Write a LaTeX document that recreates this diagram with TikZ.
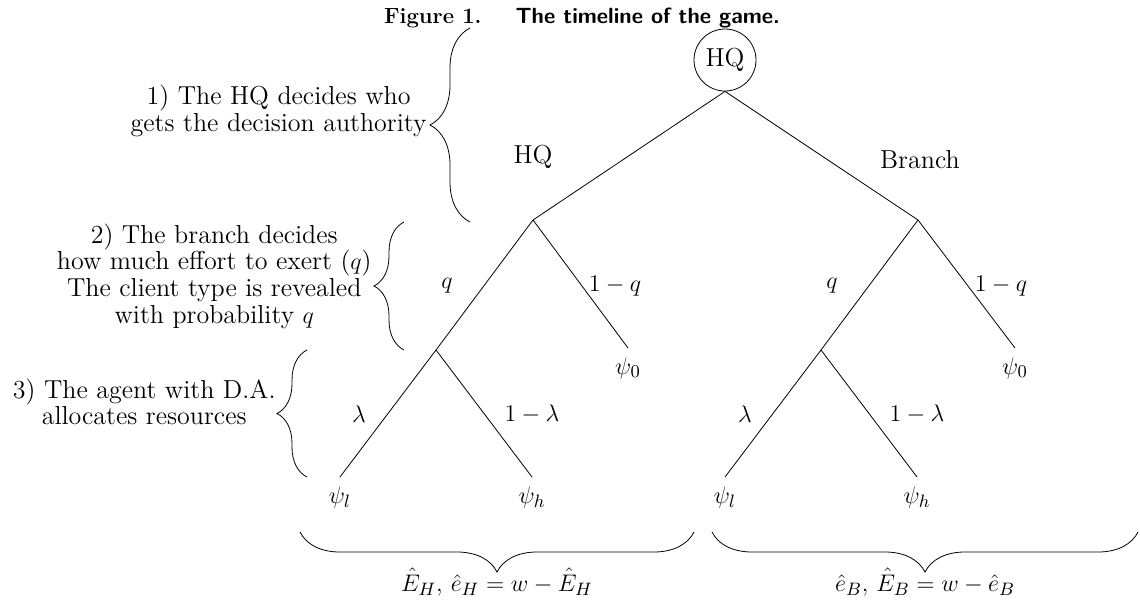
\documentclass[tikz,border=0pt]{standalone}
\usetikzlibrary{decorations.pathreplacing}
\begin{document}
\begin{tikzpicture}[x=0.5pt,y=-0.5pt,
  txt/.style={font=\fontsize{13}{13.3}\selectfont, inner sep=0pt},
  leaf/.style={txt, inner sep=4.5pt, anchor=north},
  side/.style={txt, align=center, anchor=east},
  brc/.style={decorate, decoration={brace, amplitude=#1}},
  line width=0.4pt]
\useasboundingbox (0,0) rectangle (1140,600);
% title
\node[font=\fontsize{11}{12}\selectfont, inner sep=0pt, anchor=base] (title) at (582,23)
  {\textbf{Figure 1.}\hspace{17pt}\textsf{\bfseries The timeline of the game.}};
% tree nodes
\node[circle, draw, txt, minimum size=31pt] (r) at (725,60) {HQ};
\coordinate (H) at (533,220);
\coordinate (B) at (918,220);
\coordinate (Hq) at (436,350);
\coordinate (Bq) at (821,350);
\node[leaf] (H0) at (628,348) {$\psi_0$};
\node[leaf] (B0) at (1015,348) {$\psi_0$};
\node[leaf] (Hl) at (340,477) {$\psi_l$};
\node[leaf] (Hh) at (532,477) {$\psi_h$};
\node[leaf] (Bl) at (725,477) {$\psi_l$};
\node[leaf] (Bh) at (917,477) {$\psi_h$};
% edges
\draw (r.south) -- (H);
\draw (r.south) -- (B);
\draw (H) -- (Hq);
\draw (H) -- (H0.north);
\draw (B) -- (Bq);
\draw (B) -- (B0.north);
\draw (Hq) -- (Hl.north);
\draw (Hq) -- (Hh.north);
\draw (Bq) -- (Bl.north);
\draw (Bq) -- (Bh.north);
% edge labels
\node[txt] (lHQ) at (533,157) {HQ};
\node[txt] (lBr) at (920,160) {Branch};
\node[txt] (lq1) at (447,286) {$q$};
\node[txt] (lnq1) at (615,286) {$1-q$};
\node[txt] (lq2) at (832,286) {$q$};
\node[txt] (lnq2) at (1001,286) {$1-q$};
\node[txt] (ll1) at (359,414) {$\lambda$};
\node[txt] (lnl1) at (532,414) {$1-\lambda$};
\node[txt] (ll2) at (745,414) {$\lambda$};
\node[txt] (lnl2) at (917,414) {$1-\lambda$};
% braces on the left
\coordinate (b1a) at (470,222);
\coordinate (b1b) at (470,28);
\draw[brc=20pt] (b1a) -- (b1b);
\node[side] (t1) at (427,111) {1) The HQ decides who\\gets the decision authority};
\coordinate (b2a) at (404,350);
\coordinate (b2b) at (404,222);
\draw[brc=15pt] (b2a) -- (b2b);
\node[side] (t2) at (372,276) {2) The branch decides\\how much effort to exert ($q$)\\The client type is revealed\\with probability $q$};
\coordinate (b3a) at (307,477);
\coordinate (b3b) at (307,350);
\draw[brc=15pt] (b3a) -- (b3b);
\node[side] (t3) at (276,402) {3) The agent with D.A.\\allocates resources};
% bottom braces
\coordinate (b4a) at (694,532);
\coordinate (b4b) at (300,532);
\draw[brc=20pt] (b4a) -- (b4b);
\node[txt] (t4) at (497,582) {$\hat E_H,\,\hat e_H = w - \hat E_H$};
\coordinate (b5a) at (1138,532);
\coordinate (b5b) at (712,532);
\draw[brc=20pt] (b5a) -- (b5b);
\node[txt] (t5) at (925,582) {$\hat e_B,\,\hat E_B = w - \hat e_B$};
\end{tikzpicture}
\end{document}
